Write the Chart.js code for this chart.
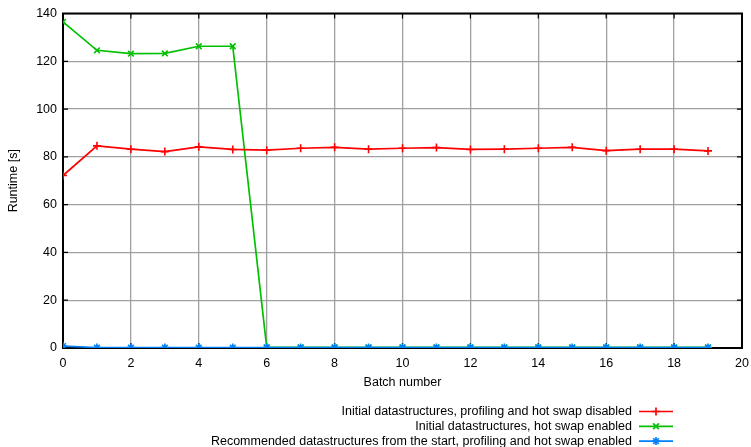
<!DOCTYPE html>
<html>
<head>
<meta charset="utf-8">
<script src="https://cdn.jsdelivr.net/npm/chart.js@4"></script>
<style>
  html, body { margin: 0; padding: 0; background: #fff; }
  #wrap { width: 751px; height: 447px; }
</style>
</head>
<body>
<div id="wrap"><canvas id="runtime" width="751" height="447"></canvas></div>
<script>
// data
const batches = [0, 1, 2, 3, 4, 5, 6, 7, 8, 9, 10, 11, 12, 13, 14, 15, 16, 17, 18, 19];
const disabledRuntime = [72.2, 84.6, 83.2, 82.2, 84.2, 83.1, 82.8, 83.6, 84.0, 83.2, 83.6, 83.9, 83.1, 83.2, 83.6, 84.0, 82.6, 83.2, 83.2, 82.5];
const hotSwapRuntime = [136.5, 124.6, 123.2, 123.3, 126.3, 126.3, 0.3, 0.3, 0.3, 0.3, 0.3, 0.3, 0.3, 0.3, 0.3, 0.3, 0.3, 0.3, 0.3, 0.3];
const recommendedRuntime = [0.8, 0.2, 0.2, 0.2, 0.2, 0.2, 0.2, 0.2, 0.2, 0.2, 0.2, 0.2, 0.2, 0.2, 0.2, 0.2, 0.2, 0.2, 0.2, 0.2];
const seriesLabels = [
  "Initial datastructures, profiling and hot swap disabled",
  "Initial datastructures, hot swap enabled",
  "Recommended datastructures from the start, profiling and hot swap enabled",
];
const xRange = [0, 20, 2];
const yRange = [0, 140, 20];

const FONT = "'Liberation Sans', Arial, sans-serif";
const toPoints = (ys) => batches.map((b, i) => ({ x: b, y: ys[i] }));

// frame with gnuplot style inward ticks
const framePlugin = {
  id: "frame",
  beforeDatasetsDraw(chart) {
    const { ctx, chartArea: a, scales } = chart;
    ctx.save();
    ctx.strokeStyle = "#000";
    ctx.lineWidth = 1.2;
    ctx.beginPath();
    scales.x.ticks.forEach((t) => {
      const px = scales.x.getPixelForValue(t.value);
      ctx.moveTo(px, a.top); ctx.lineTo(px, a.top + 5);
      ctx.moveTo(px, a.bottom); ctx.lineTo(px, a.bottom - 5);
    });
    scales.y.ticks.forEach((t) => {
      const py = scales.y.getPixelForValue(t.value);
      ctx.moveTo(a.left, py); ctx.lineTo(a.left + 5, py);
      ctx.moveTo(a.right, py); ctx.lineTo(a.right - 5, py);
    });
    ctx.stroke();
    ctx.lineWidth = 2;
    ctx.strokeRect(a.left, a.top, a.right - a.left, a.bottom - a.top);
    ctx.restore();
  },
};

// key below the plot: text right aligned, then sample line + marker
const keyPlugin = {
  id: "key",
  afterDraw(chart) {
    const { ctx } = chart;
    const textRight = chart.width - 119;
    const lineStart = textRight + 7;
    const lineEnd = textRight + 41;
    ctx.save();
    ctx.font = "12.5px " + FONT;
    ctx.textAlign = "right";
    ctx.textBaseline = "middle";
    chart.data.datasets.forEach((ds, i) => {
      const y = 411.5 + i * 14.8;
      ctx.fillStyle = "#000";
      ctx.fillText(ds.label, textRight, y);
      ctx.strokeStyle = ds.borderColor;
      ctx.lineWidth = ds.borderWidth;
      ctx.beginPath();
      ctx.moveTo(lineStart, y);
      ctx.lineTo(lineEnd, y);
      ctx.stroke();
      Chart.helpers.drawPoint(ctx, {
        pointStyle: ds.pointStyle, radius: ds.pointRadius, borderWidth: ds.pointBorderWidth, rotation: 0,
      }, (lineStart + lineEnd) / 2, y);
    });
    ctx.restore();
  },
};

const mkSet = (label, ys, color, style, order) => ({
  label,
  data: toPoints(ys),
  borderColor: color,
  backgroundColor: color,
  borderWidth: 1.7,
  pointStyle: style,
  pointRadius: 4,
  pointBorderWidth: 1.6,
  pointBorderColor: color,
  tension: 0,
  order,
});

const ctx = document.getElementById("runtime").getContext("2d");
const runtimeChart = new Chart(ctx, {
  type: "line",
  data: {
    datasets: [
      mkSet(seriesLabels[0], disabledRuntime, "#ff0000", "cross", 1),
      mkSet(seriesLabels[1], hotSwapRuntime, "#00c000", "crossRot", 2),
      mkSet(seriesLabels[2], recommendedRuntime, "#0080ff", "star", 0),
    ],
  },
  options: {
    responsive: false,
    animation: false,
    devicePixelRatio: 1,
    layout: { padding: { top: 13, right: 9, bottom: 54, left: 0 } },
    plugins: { legend: { display: false }, tooltip: { enabled: false } },
    scales: {
      x: {
        type: "linear",
        min: xRange[0],
        max: xRange[1],
        ticks: { stepSize: xRange[2], padding: 8, color: "#000", font: { family: FONT, size: 12.5 }, maxRotation: 0 },
        grid: { color: "#a0a0a0", lineWidth: 1.3, drawTicks: false },
        border: { display: false },
        title: { display: true, text: "Batch number", color: "#000", font: { family: FONT, size: 12.5 }, padding: { top: 0, bottom: 2.5 } },
        afterFit: (s) => { s.height = 45; s.paddingRight = 0; s.paddingLeft = 0; },
      },
      y: {
        min: yRange[0],
        max: yRange[1],
        ticks: { stepSize: yRange[2], padding: 6, color: "#000", font: { family: FONT, size: 12.5 } },
        grid: { color: "#a0a0a0", lineWidth: 1.3, drawTicks: false },
        border: { display: false },
        title: { display: true, text: "Runtime [s]", color: "#000", font: { family: FONT, size: 12.5 }, padding: { top: 6, bottom: 0 } },
        afterFit: (s) => { s.width = 63; },
      },
    },
  },
  plugins: [framePlugin, keyPlugin],
});
</script>
</body>
</html>
